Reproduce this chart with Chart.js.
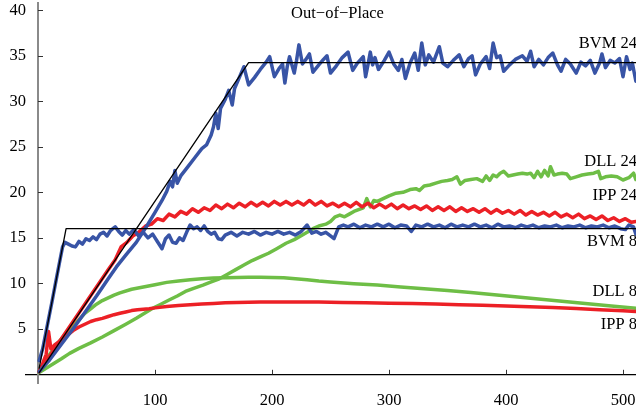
<!DOCTYPE html>
<html><head><meta charset="utf-8">
<script src="https://cdn.jsdelivr.net/npm/chart.js@4/dist/chart.umd.min.js"></script>
<style>html,body{margin:0;padding:0;background:#fff;overflow:hidden}canvas{display:block}</style>
</head><body><canvas id="c" width="636" height="408"></canvas>
<script>
// ---- data (x = size, y = speed-up) ----
const title = 'Out\u2212of\u2212Place';
const xTicks = [100, 200, 300, 400, 500];
const yTicks = [5, 10, 15, 20, 25, 30, 35, 40];
const seriesNames = ['BVM 24', 'DLL 24', 'IPP 24', 'BVM 8', 'DLL 8', 'IPP 8'];

const ideal8 = [[1,0.67],[24,16],[512,16]];
const ideal24 = [[1,0.19],[180,34.25],[512,34.25]];

const bvm8 = [[1,1.5],[4,2.8],[8,5.4],[12,8.0],[16,10.7],[19,12.7],[21,14.0],[23,14.5],[26,14.3],[29,14.1],[32,14.0],[35,14.6],[38,14.3],[41,14.9],[44,14.7],[47,15.1],[50,14.8],[53,15.4],[56,15.6],[59,15.2],[62,15.8],[64,16.0],[66,16.2],[69,15.7],[72,15.3],[75,15.8],[78,15.4],[82,15.9],[86,15.2],[90,15.6],[94,15.0],[98,15.4],[102,14.6],[106,13.8],[109,14.9],[112,15.3],[115,14.5],[118,14.4],[121,15.0],[124,14.7],[127,15.6],[130,16.4],[133,16.0],[136,16.2],[139,15.8],[142,16.3],[145,15.7],[148,15.4],[151,15.6],[154,14.9],[157,14.8],[160,15.3],[165,15.6],[170,15.2],[175,15.6],[180,15.4],[185,15.7],[190,15.3],[195,15.6],[200,15.4],[205,15.7],[210,15.4],[215,15.6],[220,15.3],[225,15.7],[230,16.4],[234,15.5],[238,15.7],[242,15.4],[246,15.6],[250,15.2],[253,14.9],[257,16.2],[261,16.4],[265,16.2],[270,16.5],[275,16.1],[280,16.4],[285,16.2],[290,16.5],[295,16.2],[300,16.5],[305,16.1],[310,16.4],[315,16.3],[319,15.7],[323,16.4],[328,16.2],[333,16.5],[338,16.2],[343,16.4],[348,16.1],[353,16.5],[358,16.2],[363,16.4],[368,16.2],[373,16.5],[378,16.2],[383,16.4],[388,16.1],[393,16.5],[398,16.2],[403,16.3],[408,16.1],[413,16.4],[418,16.2],[423,16.4],[428,16.1],[433,16.3],[438,16.2],[443,16.4],[448,16.1],[453,16.3],[458,16.2],[463,16.4],[468,16.1],[473,16.3],[478,16.2],[483,16.4],[488,16.1],[493,16.3],[498,16.0],[502,15.9],[505,16.4],[509,16.2],[511,15.4]];

const bvm24 = [[1,0.3],[10,1.6],[20,3.3],[30,5.0],[40,6.8],[50,8.6],[60,10.5],[67,11.8],[75,13.1],[84,14.5],[92,16.1],[100,17.8],[106,19.1],[110,20.1],[113,21.2],[115,20.6],[117,22.4],[119,21.0],[122,21.8],[128,22.8],[134,23.8],[140,24.8],[144,25.2],[148,26.3],[150,27.2],[152,28.7],[154,27.0],[156,29.2],[160,30.2],[163,31.2],[166,29.6],[168,31.4],[172,32.6],[176,33.8],[180,31.8],[185,32.6],[190,33.5],[195,34.3],[198,34.9],[202,32.7],[206,33.6],[209,34.1],[211,32.0],[213,33.8],[215,34.9],[219,33.1],[221,34.5],[223,36.2],[226,34.1],[229,34.6],[232,35.2],[235,33.2],[240,34.0],[244,34.6],[247,35.0],[250,33.1],[255,33.9],[260,34.8],[265,35.4],[269,33.4],[273,34.2],[278,34.9],[280,32.7],[282,34.0],[284,35.4],[286,34.0],[288,34.8],[291,33.5],[296,34.5],[300,35.4],[304,34.1],[308,33.4],[311,34.6],[314,32.5],[318,34.2],[322,35.3],[325,33.4],[328,36.4],[331,34.0],[334,35.1],[338,34.3],[343,36.0],[346,34.2],[350,33.8],[355,34.5],[360,35.1],[364,33.8],[368,34.7],[371,35.0],[374,32.9],[378,34.1],[383,34.9],[386,33.6],[389,36.4],[392,34.8],[395,35.0],[398,33.3],[403,34.0],[408,34.6],[414,35.0],[418,34.4],[421,35.5],[424,33.8],[428,34.6],[432,34.0],[436,34.8],[440,35.3],[444,34.0],[447,33.3],[451,34.6],[455,34.1],[460,33.1],[464,34.3],[468,33.9],[472,34.5],[476,33.1],[480,34.2],[482,35.2],[485,33.7],[489,34.5],[493,34.2],[497,34.7],[500,32.7],[503,34.9],[506,33.5],[508,34.2],[511,32.2]];

const ipp24 = [[1,0.3],[10,2.0],[20,3.9],[30,5.8],[40,7.7],[50,9.6],[60,11.5],[66,12.6],[71,14.0],[76,14.5],[81,15.2],[86,15.6],[92,16.3],[97,16.5],[102,17.1],[107,16.9],[112,17.6],[117,17.3],[122,17.9],[127,17.6],[132,18.2],[137,17.8],[142,18.3],[147,18.0],[152,18.6],[157,18.2],[162,18.7],[167,18.3],[172,18.8],[177,18.4],[182,18.9],[187,18.5],[192,18.9],[197,18.5],[202,19.0],[207,18.6],[212,19.0],[217,18.6],[222,19.0],[227,18.6],[232,19.1],[237,18.6],[242,19.0],[247,18.5],[252,18.8],[257,18.4],[262,18.8],[267,18.4],[272,18.9],[277,18.4],[282,18.8],[287,18.3],[292,18.7],[297,18.3],[302,18.7],[307,18.2],[312,18.6],[317,18.2],[322,18.5],[327,18.1],[332,18.5],[337,18.0],[342,18.4],[347,18.0],[352,18.4],[357,17.9],[362,18.3],[367,17.9],[372,18.2],[377,17.8],[382,18.2],[387,17.7],[392,18.1],[397,17.7],[402,18.0],[407,17.6],[412,18.0],[417,17.5],[422,17.9],[427,17.5],[432,17.8],[437,17.4],[442,17.8],[447,17.3],[452,17.6],[457,17.2],[462,17.6],[467,17.1],[472,17.4],[477,17.0],[482,17.4],[487,16.9],[492,17.2],[497,16.8],[502,17.1],[507,16.7],[511,16.8]];

const ipp8 = [[1,0.3],[4,1.2],[7,2.2],[9,4.7],[11,2.8],[14,3.2],[18,3.6],[22,4.0],[26,4.4],[30,4.8],[35,5.2],[40,5.5],[45,5.8],[50,6.0],[55,6.15],[60,6.35],[65,6.55],[70,6.7],[75,6.85],[80,7.0],[85,7.1],[90,7.15],[95,7.2],[100,7.3],[110,7.45],[120,7.55],[130,7.65],[140,7.72],[150,7.78],[160,7.85],[170,7.88],[180,7.92],[190,7.95],[200,7.95],[220,7.95],[240,7.95],[260,7.9],[280,7.85],[300,7.82],[320,7.78],[340,7.72],[360,7.65],[380,7.58],[400,7.5],[420,7.43],[440,7.35],[460,7.22],[480,7.1],[500,6.98],[511,6.9]];

const dll8 = [[1,0.3],[5,1.2],[10,2.2],[15,3.1],[20,3.9],[25,4.6],[30,5.3],[35,6.0],[40,6.7],[45,7.2],[50,7.7],[55,8.1],[60,8.4],[65,8.7],[70,8.95],[80,9.35],[90,9.6],[100,9.85],[110,10.1],[120,10.25],[130,10.4],[140,10.5],[150,10.58],[160,10.62],[170,10.65],[180,10.66],[190,10.66],[200,10.65],[210,10.6],[220,10.5],[230,10.38],[240,10.25],[250,10.15],[270,9.95],[290,9.8],[310,9.6],[330,9.4],[350,9.2],[370,9.0],[390,8.75],[410,8.5],[430,8.25],[450,8.0],[470,7.75],[490,7.5],[511,7.25]];

const dll24 = [[1,0.2],[10,0.9],[20,1.7],[27,2.3],[35,2.85],[45,3.45],[55,4.1],[65,4.8],[75,5.5],[84,6.15],[91,6.7],[98,7.25],[105,7.7],[112,8.16],[119,8.6],[126,9.1],[133,9.45],[141,9.8],[148,10.15],[155,10.5],[162,11.0],[169,11.5],[176,12.0],[183,12.5],[190,12.9],[197,13.3],[204,13.8],[212,14.4],[219,14.8],[226,15.3],[230,15.6],[235,16.0],[240,16.3],[246,16.5],[250,16.8],[254,17.3],[258,17.5],[262,17.3],[266,17.6],[270,17.9],[274,18.1],[278,18.3],[281,19.3],[284,18.4],[287,19.1],[290,19.0],[295,19.3],[300,19.6],[306,19.9],[312,20.0],[318,20.3],[323,20.4],[326,20.2],[330,20.7],[335,20.8],[340,21.0],[345,21.2],[350,21.3],[354,21.4],[358,21.7],[361,20.9],[365,21.3],[370,21.4],[375,21.5],[380,21.2],[383,21.8],[386,21.3],[389,21.9],[392,21.7],[395,22.1],[398,22.3],[402,21.8],[406,21.9],[410,22.0],[414,22.1],[418,22.0],[421,22.1],[424,21.6],[427,22.3],[430,21.7],[433,22.4],[436,21.8],[438,22.8],[441,21.9],[444,22.0],[448,22.1],[452,22.0],[455,21.5],[460,21.7],[465,21.9],[470,22.0],[475,22.1],[479,22.3],[481,21.5],[485,21.7],[490,21.8],[495,21.7],[500,21.35],[505,21.6],[509,22.1],[511,21.4]];

// ---- presentation ----
const labelYs = [36.3, 23.33, 19.6, 14.54, 9.04, 5.42];
const titleAt = [256, 39.65];
const FONT = '16.5px "Liberation Serif"';
const BLUE = 'rgb(56,84,166)', RED = 'rgb(236,32,38)', GREEN = 'rgb(110,190,70)';
const X_MIN = -10.26, X_MAX = 511.1, Y_MIN = -0.956, Y_MAX = 40.8;

const pts = a => a.map(p => ({x: p[0], y: p[1]}));
const ds = (d, color, w, order) => ({data: pts(d), borderColor: color, borderWidth: w, pointRadius: 0, tension: 0, fill: false, order: order, borderJoinStyle: 'round', borderCapStyle: 'round', yAxisID: 'y', xAxisID: 'x'});

const zeroPad = s => { s.paddingTop = 0; s.paddingBottom = 0; s.paddingLeft = 0; s.paddingRight = 0; };

const decor = {
  id: 'decor',
  afterDraw(chart) {
    const ctx = chart.ctx, xs = chart.scales.x, ys = chart.scales.y;
    const x0 = xs.getPixelForValue(0), y0 = ys.getPixelForValue(0);
    ctx.save();
    ctx.strokeStyle = '#333'; ctx.lineWidth = 1;
    yTicks.forEach(v => { const p = Math.round(ys.getPixelForValue(v)) + 0.5; ctx.beginPath(); ctx.moveTo(x0, p); ctx.lineTo(x0 + 5, p); ctx.stroke(); });
    xTicks.forEach(v => { const p = Math.round(xs.getPixelForValue(v)) + 0.5; ctx.beginPath(); ctx.moveTo(p, y0); ctx.lineTo(p, y0 - 4.5); ctx.stroke(); });
    ctx.fillStyle = '#000'; ctx.font = FONT;
    ctx.textAlign = 'center'; ctx.textBaseline = 'middle';
    ctx.fillText(title, xs.getPixelForValue(titleAt[0]), ys.getPixelForValue(titleAt[1]));
    ctx.textAlign = 'right';
    seriesNames.forEach((t, i) => ctx.fillText(t, xs.right + 1, ys.getPixelForValue(labelYs[i])));
    ctx.restore();
  }
};

new Chart(document.getElementById('c'), {
  type: 'line',
  data: {
    datasets: [
      ds(ideal24, '#000', 1.3, 0),
      ds(ideal8, '#000', 1.3, 0),
      ds(bvm24, BLUE, 3.5, 1),
      ds(bvm8, BLUE, 3.5, 1),
      ds(ipp24, RED, 3.5, 2),
      ds(ipp8, RED, 3.5, 2),
      ds(dll24, GREEN, 3.5, 3),
      ds(dll8, GREEN, 3.5, 3)
    ]
  },
  options: {
    responsive: false, animation: false, devicePixelRatio: 1,
    layout: {padding: {left: 0, right: 0, top: 3, bottom: 25}},
    plugins: {legend: {display: false}, tooltip: {enabled: false}, title: {display: false}},
    scales: {
      x: {
        type: 'linear', position: {y: 0}, min: X_MIN, max: X_MAX,
        afterBuildTicks: s => { s.ticks = xTicks.map(v => ({value: v})); },
        afterFit: zeroPad,
        grid: {display: true, drawOnChartArea: false, drawTicks: false},
        border: {display: true, color: '#000', width: 1.3},
        ticks: {color: '#000', font: {family: 'Liberation Serif', size: 16.5}, padding: 16, maxRotation: 0, autoSkip: false}
      },
      y: {
        type: 'linear', position: {x: 0}, min: Y_MIN, max: Y_MAX,
        afterBuildTicks: s => { s.ticks = yTicks.map(v => ({value: v})); },
        afterFit: zeroPad,
        grid: {display: true, drawOnChartArea: false, drawTicks: false},
        border: {display: true, color: '#8a8a8a', width: 2},
        ticks: {display: false}
      },
      yl: {
        type: 'linear', position: 'left', min: Y_MIN, max: Y_MAX,
        afterBuildTicks: s => { s.ticks = yTicks.map(v => ({value: v})); },
        afterFit: s => { zeroPad(s); s.width = 26; },
        grid: {display: false, drawTicks: false},
        border: {display: false},
        ticks: {color: '#000', font: {family: 'Liberation Serif', size: 16.5}, padding: 0, autoSkip: false}
      }
    }
  },
  plugins: [decor]
});
</script>
</body></html>
